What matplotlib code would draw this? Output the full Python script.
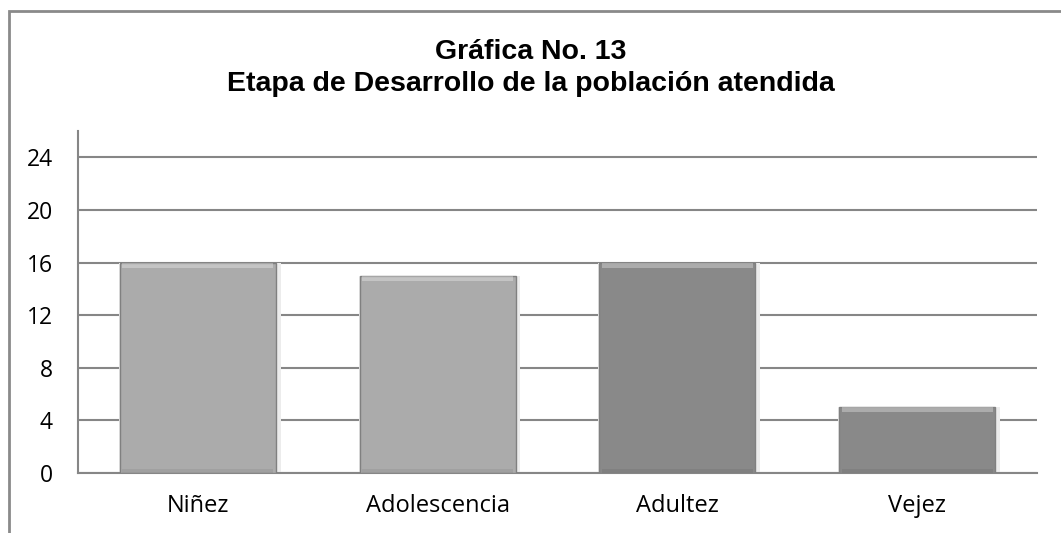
import numpy as np
import matplotlib.pyplot as plt
from matplotlib.patches import Rectangle

categorias = ["Niñez", "Adolescencia", "Adultez", "Vejez"]
valores = [16, 15, 16, 5]
colores = ["#ababab", "#ababab", "#898989", "#898989"]
yticks = [0, 4, 8, 12, 16, 20, 24]

fig = plt.figure(figsize=(10.61, 5.33), dpi=100)
ax = fig.add_axes([0.0735, 0.1126, 0.9039, 0.6416])

# marco exterior del grafico
fig.patches.append(Rectangle((9 / 1061, -0.1), 1.2, 1 - 11 / 533 + 0.1, transform=fig.transFigure,
                             fill=False, edgecolor="#8a8a8a", linewidth=2))

x = np.arange(len(categorias))
ancho = 0.65
# sombra
ax.bar(x + 0.008, valores, width=ancho + 0.025, color="#ececec", zorder=2)
ax.bar(x, valores, width=ancho, color=colores, edgecolor="#808080", linewidth=1, zorder=3)
# bisel claro arriba y oscuro abajo
for xi, v in zip(x, valores):
    ax.bar(xi, 0.4, bottom=v - 0.4, width=ancho - 0.02, color="white", alpha=0.3, zorder=4, linewidth=0)
    ax.bar(xi, 0.3, bottom=0, width=ancho - 0.02, color="black", alpha=0.06, zorder=4, linewidth=0)

ax.set_xlim(-0.5, len(categorias) - 0.5)
ax.set_ylim(0, 26)
ax.set_yticks(yticks)
ax.set_xticks(x)
ax.set_xticklabels(categorias, fontsize=17, family="Open Sans")
ax.set_yticklabels([str(t) for t in yticks], fontsize=16.5, family="Open Sans")
ax.tick_params(axis="y", length=0, pad=18)
ax.tick_params(axis="x", length=0, pad=15)
ax.yaxis.grid(True, color="#868686", linewidth=1.5, zorder=0)
ax.set_axisbelow(True)
for s in ["top", "right"]:
    ax.spines[s].set_visible(False)
for s in ["left", "bottom"]:
    ax.spines[s].set_color("#868686")
    ax.spines[s].set_linewidth(1.5)

fig.text(0.5, 0.872, "Gráfica No. 13\nEtapa de Desarrollo de la población atendida",
         ha="center", va="center", fontsize=20.5, fontweight="bold", family="Liberation Sans",
         linespacing=1.3)

fig.savefig("out.png", dpi=100)
